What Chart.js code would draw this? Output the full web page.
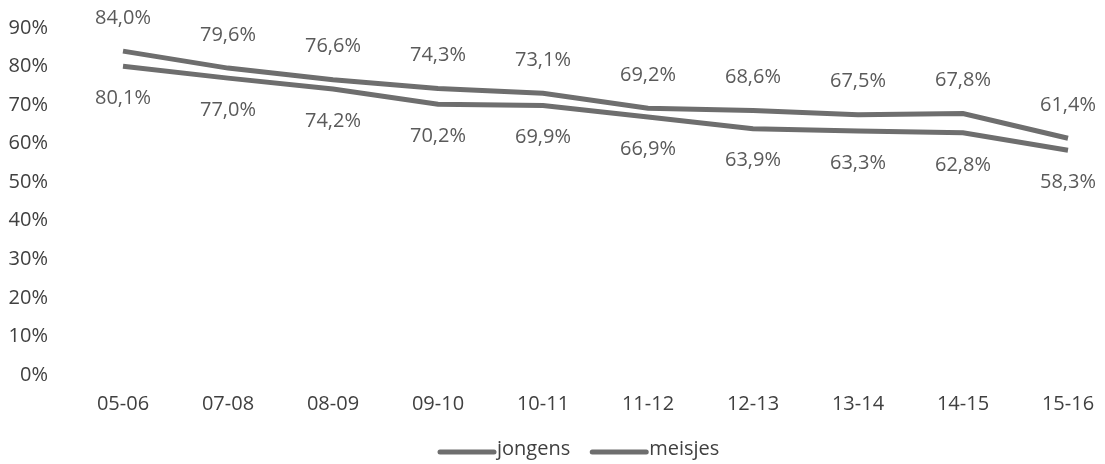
<!DOCTYPE html>
<html>
<head>
<meta charset="utf-8">
<script src="https://cdn.jsdelivr.net/npm/chart.js@4/dist/chart.umd.min.js"></script>
<style>
html,body{margin:0;padding:0;background:#fff;}
#wrap{width:1105px;height:464px;position:relative;}
</style>
</head>
<body>
<div id="wrap"><canvas id="c" width="1105" height="464"></canvas></div>
<script>
const categories = ['05-06','07-08','08-09','09-10','10-11','11-12','12-13','13-14','14-15','15-16'];
const jongens = [84.0, 79.6, 76.6, 74.3, 73.1, 69.2, 68.6, 67.5, 67.8, 61.4];
const meisjes = [80.1, 77.0, 74.2, 70.2, 69.9, 66.9, 63.9, 63.3, 62.8, 58.3];
const yTicks = [0,10,20,30,40,50,60,70,80,90];

const FONT = "'Open Sans', sans-serif";
const LINE_COLOR = '#6e6e6e';

const labelPlugin = {
  id: 'valueLabels',
  afterDatasetsDraw(chart) {
    const ctx = chart.ctx;
    ctx.save();
    ctx.font = "20px " + FONT;
    ctx.fillStyle = '#5a5a5a';
    ctx.textAlign = 'center';
    ctx.textBaseline = 'middle';
    chart.data.datasets.forEach((ds, di) => {
      const meta = chart.getDatasetMeta(di);
      meta.data.forEach((pt, i) => {
        const txt = ds.data[i].toFixed(1).replace('.', ',') + '%';
        const dy = di === 0 ? -33 : 32;
        ctx.fillText(txt, pt.x, pt.y + dy);
      });
    });
    ctx.restore();
  }
};

// Legend drawn in the reference's (off-centre) spot
const legendPlugin = {
  id: 'customLegend',
  afterDraw(chart) {
    const ctx = chart.ctx;
    ctx.save();
    ctx.font = "20px " + FONT;
    ctx.textBaseline = 'middle';
    ctx.textAlign = 'left';
    let x = 438;
    const y = 452;
    chart.data.datasets.forEach((ds) => {
      ctx.strokeStyle = ds.borderColor;
      ctx.lineWidth = 5;
      ctx.lineCap = 'round';
      ctx.beginPath();
      ctx.moveTo(x + 2, y);
      ctx.lineTo(x + 56, y);
      ctx.stroke();
      x += 59;
      ctx.fillStyle = '#404040';
      ctx.fillText(ds.label, x, y - 3);
      x += ctx.measureText(ds.label).width + 20;
    });
    ctx.restore();
  }
};

new Chart(document.getElementById('c'), {
  type: 'line',
  data: {
    labels: categories,
    datasets: [
      { label: 'jongens', data: jongens, borderColor: LINE_COLOR, backgroundColor: LINE_COLOR, borderWidth: 5, pointRadius: 0, tension: 0 },
      { label: 'meisjes', data: meisjes, borderColor: LINE_COLOR, backgroundColor: LINE_COLOR, borderWidth: 5, pointRadius: 0, tension: 0 }
    ]
  },
  options: {
    responsive: false,
    animation: false,
    layout: { padding: { left: 5, right: 37, top: 28, bottom: 39 } },
    plugins: {
      legend: { display: false },
      tooltip: { enabled: false }
    },
    scales: {
      x: {
        offset: false,
        grid: { display: false },
        border: { display: false },
        ticks: { color: '#404040', font: { size: 20, family: FONT }, padding: 9, maxRotation: 0 }
      },
      y: {
        min: 0, max: 90,
        afterBuildTicks(scale) { scale.ticks = yTicks.map(v => ({ value: v })); },
        afterFit(scale) { scale.width = 118; scale.paddingTop = 0; scale.paddingBottom = 0; },
        grid: { display: false },
        border: { display: false },
        ticks: { color: '#404040', font: { size: 20, family: FONT }, padding: 67, callback: v => v + '%' }
      }
    }
  },
  plugins: [labelPlugin, legendPlugin]
});
</script>
</body>
</html>
